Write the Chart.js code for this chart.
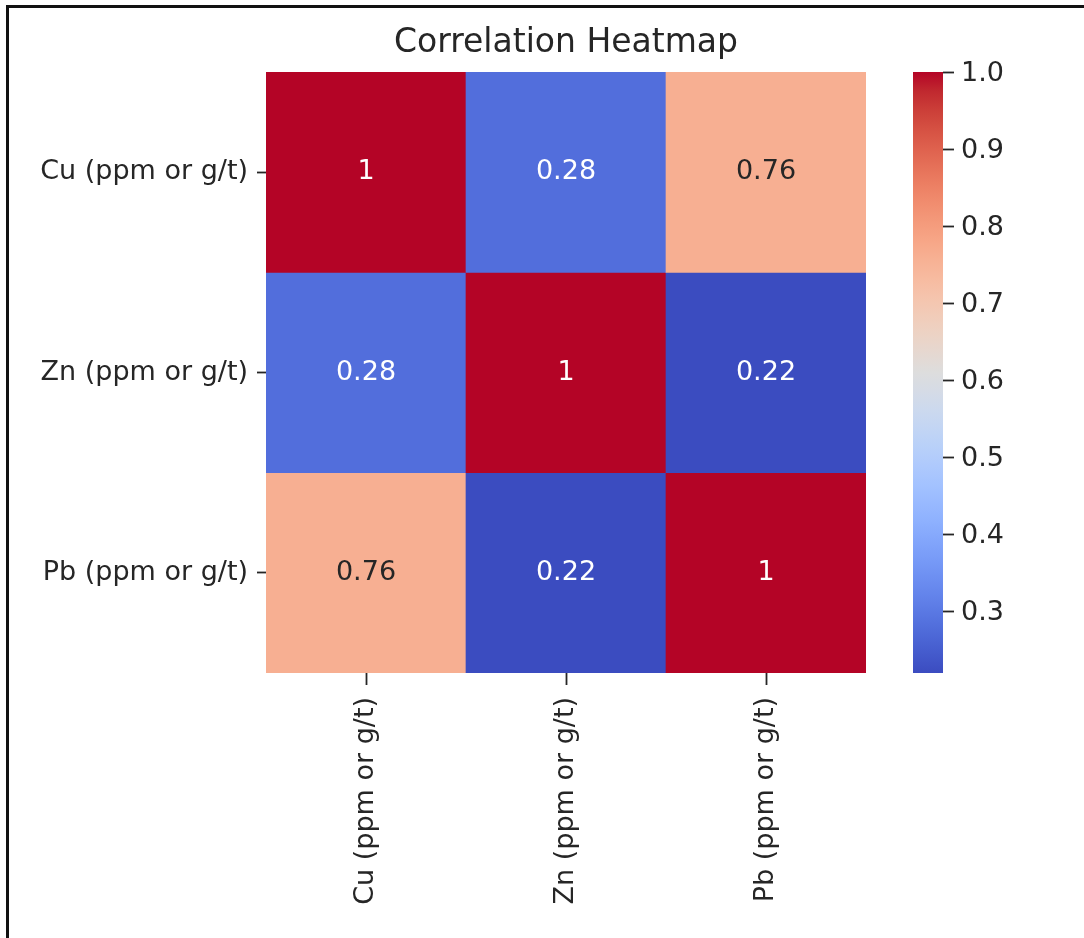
<!DOCTYPE html>
<html lang="en">
<head>
<meta charset="utf-8"/>
<title>Correlation Heatmap</title>
<script src="https://cdn.jsdelivr.net/npm/chart.js"></script>
<style>
    html, body { margin: 0; padding: 0; background: #fff; }
    #wrap { position: relative; width: 1084px; height: 938px; overflow: hidden; }
    #frame { position: absolute; left: 6px; top: 5px; width: 1100px; height: 960px;
             border-top: 3px solid #111; border-left: 3px solid #111; }
    #heat { position: absolute; left: 0; top: 0; }
    #cbar { position: absolute; left: 880px; top: 0; }
</style>
</head>
<body>
<div id="wrap">
    <canvas id="heat" width="900" height="938"></canvas>
    <canvas id="cbar" width="204" height="938"></canvas>
    <div id="frame"></div>
</div>

<script>
// data
const labels = ['Cu (ppm or g/t)', 'Zn (ppm or g/t)', 'Pb (ppm or g/t)'];
const cuRow = [1, 0.28, 0.76];
const znRow = [0.28, 1, 0.22];
const pbRow = [0.76, 0.22, 1];
const rows = [cuRow, znRow, pbRow];
const cbarTicks = [0.3, 0.4, 0.5, 0.6, 0.7, 0.8, 0.9, 1.0];

const vmin = Math.min(...rows.flat());
const vmax = Math.max(...rows.flat());

// matplotlib coolwarm (Moreland), 33 stops
const coolwarm = [
    [0.2298, 0.2987, 0.7537], [0.2662, 0.3531, 0.8015], [0.3039, 0.4065, 0.8450],
    [0.3428, 0.4588, 0.8837], [0.3830, 0.5094, 0.9174], [0.4244, 0.5581, 0.9456],
    [0.4667, 0.6046, 0.9682], [0.5096, 0.6483, 0.9848], [0.5530, 0.6889, 0.9954],
    [0.5963, 0.7261, 0.9998], [0.6392, 0.7596, 0.9982], [0.6813, 0.7890, 0.9904],
    [0.7222, 0.8140, 0.9766], [0.7615, 0.8343, 0.9569], [0.7987, 0.8498, 0.9317],
    [0.8335, 0.8602, 0.9011], [0.8654, 0.8654, 0.8654], [0.8978, 0.8489, 0.8209],
    [0.9241, 0.8274, 0.7745], [0.9445, 0.8009, 0.7267], [0.9589, 0.7698, 0.6780],
    [0.9673, 0.7341, 0.6288], [0.9700, 0.6943, 0.5794], [0.9668, 0.6504, 0.5303],
    [0.9580, 0.6028, 0.4818], [0.9437, 0.5518, 0.4342], [0.9239, 0.4973, 0.3880],
    [0.8990, 0.4396, 0.3432], [0.8692, 0.3783, 0.3003], [0.8346, 0.3129, 0.2593],
    [0.7956, 0.2413, 0.2205], [0.7525, 0.1572, 0.1841], [0.7057, 0.0156, 0.1502]
];

function cmap(t) {
    t = Math.min(1, Math.max(0, t));
    const f = t * (coolwarm.length - 1);
    const i = Math.min(Math.floor(f), coolwarm.length - 2);
    const k = f - i;
    return coolwarm[i].map((c, n) => Math.round(255 * (c + (coolwarm[i + 1][n] - c) * k)));
}
function rgb(c) { return 'rgb(' + c.join(',') + ')'; }
function luminance(c) {
    const l = c.map(v => { v /= 255; return v <= 0.03928 ? v / 12.92 : Math.pow((v + 0.055) / 1.055, 2.4); });
    return 0.2126 * l[0] + 0.7152 * l[1] + 0.0722 * l[2];
}
function norm(v) { return (v - vmin) / (vmax - vmin); }

const FONT = '"DejaVu Sans", sans-serif';
const TEXT = '#262626';

const annotate = {
    id: 'annotate',
    afterDatasetsDraw(chart) {
        const ctx = chart.ctx;
        ctx.save();
        ctx.font = '27px ' + FONT;
        ctx.textAlign = 'center';
        ctx.textBaseline = 'middle';
        chart.data.datasets.forEach((ds, i) => {
            chart.getDatasetMeta(i).data.forEach((el, j) => {
                const v = ds.values[j];
                const p = el.getCenterPoint();
                ctx.fillStyle = luminance(cmap(norm(v))) > 0.408 ? TEXT : '#ffffff';
                ctx.fillText(String(Number(v.toPrecision(2))), p.x, p.y);
            });
        });
        ctx.restore();
    }
};

new Chart(document.getElementById('heat'), {
    type: 'bar',
    data: {
        labels: labels,
        datasets: rows.map((row, i) => ({
            label: labels[i],
            data: row.map(() => [i, i + 1]),
            values: row,
            backgroundColor: row.map(v => rgb(cmap(norm(v)))),
            borderWidth: 0,
            barPercentage: 1,
            categoryPercentage: 1,
            grouped: false
        }))
    },
    options: {
        responsive: false,
        animation: false,
        layout: { padding: { left: 0, right: 34, top: 0, bottom: 0 } },
        plugins: {
            legend: { display: false },
            tooltip: { enabled: false },
            title: {
                display: true,
                fullSize: false,
                text: 'Correlation Heatmap',
                color: TEXT,
                font: { family: FONT, size: 33, weight: 'normal' },
                padding: { top: 24, bottom: 8.4 }
            }
        },
        scales: {
            x: {
                grid: { offset: false, drawOnChartArea: false, tickLength: 12, tickWidth: 1.8, tickColor: TEXT },
                border: { display: false },
                ticks: { color: TEXT, font: { family: FONT, size: 27 }, minRotation: 90, maxRotation: 90, padding: 12 },
                afterFit(s) { s.height = 265; }
            },
            y: {
                type: 'linear',
                min: 0,
                max: 3,
                reverse: true,
                afterBuildTicks(s) { s.ticks = labels.map((l, i) => ({ value: i + 0.5 })); },
                grid: { drawOnChartArea: false, tickLength: 9, tickWidth: 1.8, tickColor: TEXT },
                border: { display: false },
                ticks: { color: TEXT, font: { family: FONT, size: 27 }, padding: 9,
                         callback: (v, i) => labels[i] },
                afterFit(s) { s.width = 266; }
            }
        }
    },
    plugins: [annotate]
});

new Chart(document.getElementById('cbar'), {
    type: 'bar',
    data: {
        labels: [''],
        datasets: [{
            data: [[vmin, vmax]],
            backgroundColor(ctx) {
                const area = ctx.chart.chartArea;
                if (!area) return null;
                const g = ctx.chart.ctx.createLinearGradient(0, area.bottom, 0, area.top);
                coolwarm.forEach((c, i) => g.addColorStop(i / (coolwarm.length - 1), rgb(c.map(v => Math.round(v * 255)))));
                return g;
            },
            borderWidth: 0,
            barPercentage: 1,
            categoryPercentage: 1
        }]
    },
    options: {
        responsive: false,
        animation: false,
        layout: { padding: { left: 33, right: 0, top: 72, bottom: 265 } },
        plugins: { legend: { display: false }, tooltip: { enabled: false } },
        scales: {
            x: { display: false },
            y: {
                type: 'linear',
                position: 'right',
                min: vmin,
                max: vmax,
                afterBuildTicks(s) { s.ticks = cbarTicks.map(v => ({ value: v })); },
                grid: { drawOnChartArea: false, tickLength: 11, tickWidth: 1.8, tickColor: TEXT },
                border: { display: false },
                ticks: { color: TEXT, font: { family: FONT, size: 27 }, padding: 7, labelOffset: 2,
                         callback: v => v.toFixed(1) },
                afterFit(s) { s.width = 141; }
            }
        }
    }
});
</script>
</body>
</html>
